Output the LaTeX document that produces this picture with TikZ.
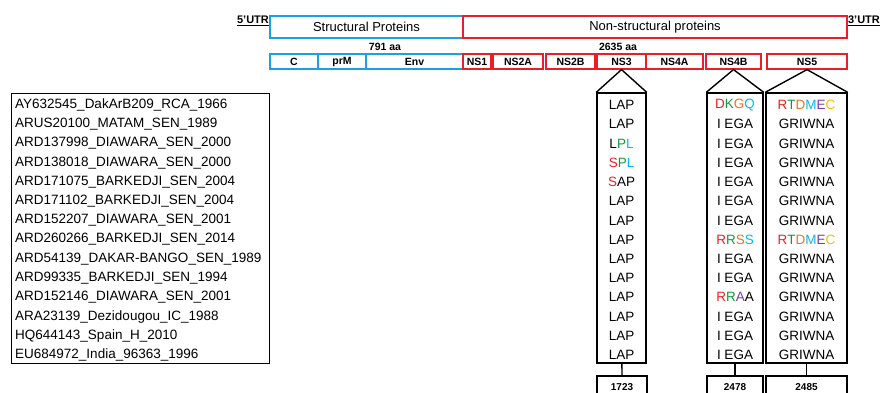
\documentclass[tikz,border=0pt]{standalone}
\usepackage{fontspec}
\setmainfont{Liberation Sans}
\definecolor{strucblue}{RGB}{25,160,230}
\definecolor{nsred}{RGB}{235,30,35}
\definecolor{mred}{RGB}{240,30,30}
\definecolor{mgreen}{RGB}{20,150,60}
\definecolor{morange}{RGB}{245,110,30}
\definecolor{mcyan}{RGB}{0,185,240}
\definecolor{mpurple}{RGB}{120,60,170}
\definecolor{myellow}{RGB}{245,190,0}
\newcommand{\mkR}[1]{\textcolor{mred}{#1}}
\newcommand{\mkG}[1]{\textcolor{mgreen}{#1}}
\newcommand{\mkO}[1]{\textcolor{morange}{#1}}
\newcommand{\mkC}[1]{\textcolor{mcyan}{#1}}
\newcommand{\mkP}[1]{\textcolor{mpurple}{#1}}
\newcommand{\mkY}[1]{\textcolor{myellow}{#1}}
\begin{document}
\begin{tikzpicture}[x=1pt, y=-1pt, font=\fontsize{12.5}{14}\selectfont,
        sgene/.style={draw=strucblue, line width=1.2pt, inner sep=0pt, minimum height=15pt, font=\bfseries\fontsize{10.5}{12}\selectfont},
        ngene/.style={draw=nsred, line width=1.2pt, inner sep=0pt, minimum height=15pt, font=\bfseries\fontsize{10.5}{12}\selectfont},
        region/.style={line width=1.2pt, inner sep=0pt, minimum height=22pt, font=\fontsize{13}{15}\selectfont},
        utr/.style={font=\bfseries\fontsize{11}{13}\selectfont, inner sep=0pt},
        aalen/.style={font=\bfseries\fontsize{10.5}{12}\selectfont, inner sep=0pt},
        col/.style={draw, line width=1.4pt, inner sep=0pt, minimum height=270pt},
        posbox/.style={draw, line width=1.4pt, inner sep=0pt, minimum height=22pt, font=\bfseries\fontsize{10}{12}\selectfont},
        strain/.style={anchor=west, inner sep=0pt, font=\fontsize{13.5}{15}\selectfont},
        res/.style={inner sep=0pt, font=\fontsize{13.5}{15}\selectfont}]
        \useasboundingbox (0,0) rectangle (880,392);
        % ---- genome ----
        \node[utr] (utr5) at (253,21) {\underline{5'UTR}};
        \node[utr] (utr3) at (864,21) {\underline{3'UTR}};
        \node[region, draw=strucblue, minimum width=193pt] (struc) at (366.5,27) {Structural Proteins};
        \node[region, draw=nsred, minimum width=384pt] (nonstruc) at (655,27) {Non-structural proteins};
        \node[aalen] (len1) at (385,47) {791 aa};
        \node[aalen] (len2) at (618,47) {2635 aa};
        % ---- proteins ----
        \node[sgene, minimum width=48pt] (c) at (294,61.5) {C};
        \node[sgene, minimum width=48pt] (prm) at (342,61.5) {prM};
        \node[sgene, minimum width=97pt] (env) at (414.5,61.5) {Env};
        \node[ngene, minimum width=28pt] (ns1) at (477,61.5) {NS1};
        \node[ngene, minimum width=50pt] (ns2a) at (518,61.5) {NS2A};
        \node[ngene, minimum width=49pt] (ns2b) at (570.5,61.5) {NS2B};
        \node[ngene, minimum width=49pt] (ns3) at (621.5,61.5) {NS3};
        \node[ngene, minimum width=57pt] (ns4a) at (674.5,61.5) {NS4A};
        \node[ngene, minimum width=55pt] (ns4b) at (733.5,61.5) {NS4B};
        \node[ngene, minimum width=80pt] (ns5) at (807,61.5) {NS5};
        % ---- strains ----
        \node[draw, line width=0.9pt, minimum width=258pt, minimum height=270pt] (list) at (140,228) {};
        \foreach \s [count=\i from 0] in {AY632545\_DakArB209\_RCA\_1966, ARUS20100\_MATAM\_SEN\_1989,
            ARD137998\_DIAWARA\_SEN\_2000, ARD138018\_DIAWARA\_SEN\_2000, ARD171075\_BARKEDJI\_SEN\_2004,
            ARD171102\_BARKEDJI\_SEN\_2004, ARD152207\_DIAWARA\_SEN\_2001, ARD260266\_BARKEDJI\_SEN\_2014,
            ARD54139\_DAKAR-BANGO\_SEN\_1989, ARD99335\_BARKEDJI\_SEN\_1994, ARD152146\_DIAWARA\_SEN\_2001,
            ARA23139\_Dezidougou\_IC\_1988, HQ644143\_Spain\_H\_2010, EU684972\_India\_96363\_1996}
          \node[strain] (s\i) at (15,105+19.23*\i) {\s};
        % ---- residue columns ----
        \node[col, minimum width=49pt] (col3) at (621.5,228) {};
        \node[col, minimum width=56pt] (col4b) at (735,228) {};
        \node[col, minimum width=81pt] (col5) at (806.5,228) {};
        \draw[line width=1.4pt] (col3.north west) -- (ns3.south) -- (col3.north east);
        \draw[line width=1.4pt] (col4b.north west) -- (ns4b.south) -- (col4b.north east);
        \draw[line width=1.4pt] (col5.north west) -- (ns5.south) -- (col5.north east);
        \foreach \r [count=\i from 0] in {LAP, LAP, L\mkG{P}\mkC{L}, \mkR{S}\mkG{P}\mkC{L}, \mkR{S}AP,
            LAP, LAP, LAP, LAP, LAP, LAP, LAP, LAP, LAP}
          \node[res] (a\i) at (621.5,105+19.23*\i) {\r};
        \foreach \r [count=\i from 0] in {\mkR{D}\mkG{K}\mkO{G}\mkC{Q}, I EGA, I EGA, I EGA, I EGA, I EGA, I EGA,
            \mkR{R}\mkG{R}\mkO{S}\mkC{S}, I EGA, I EGA, \mkR{R}\mkG{R}\mkP{A}A, I EGA, I EGA, I EGA}
          \node[res] (b\i) at (735,105+19.23*\i) {\r};
        \foreach \r [count=\i from 0] in {\mkR{R}\mkG{T}\mkO{D}\mkC{M}\mkP{E}\mkY{C}, GRIWNA, GRIWNA, GRIWNA,
            GRIWNA, GRIWNA, GRIWNA, \mkR{R}\mkG{T}\mkO{D}\mkC{M}\mkP{E}\mkY{C}, GRIWNA, GRIWNA, GRIWNA,
            GRIWNA, GRIWNA, GRIWNA}
          \node[res] (d\i) at (806.5,105+19.23*\i) {\r};
        % ---- positions ----
        \node[posbox, minimum width=50pt] (p3) at (622,387) {1723};
        \node[posbox, minimum width=56pt] (p4b) at (735,387) {2478};
        \node[posbox, minimum width=81pt] (p5) at (806.5,387) {2485};
        \draw[line width=1.4pt] (col3) -- (p3);
        \draw[line width=1.4pt] (col4b) -- (p4b);
        \draw[line width=1.4pt] (col5) -- (p5);
    \end{tikzpicture}
\end{document}
